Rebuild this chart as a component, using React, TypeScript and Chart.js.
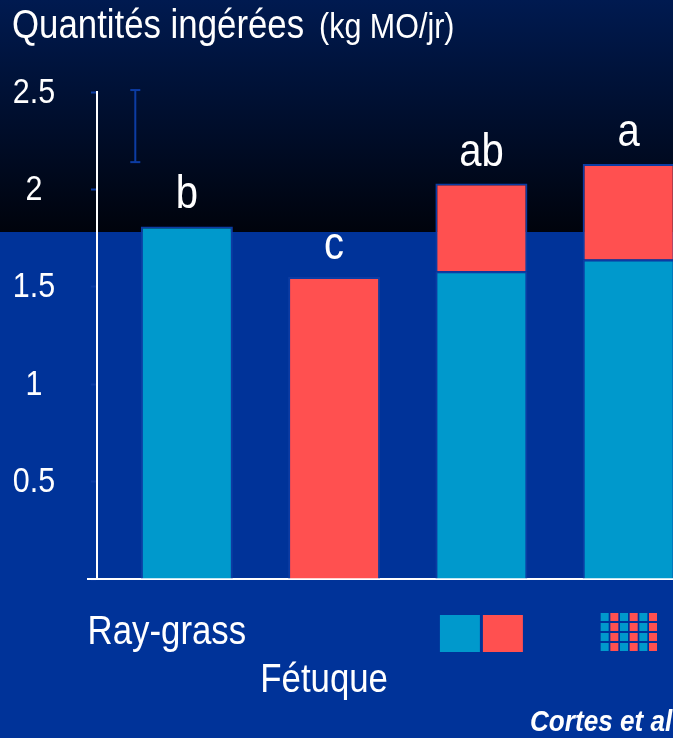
import { useEffect, useRef } from 'react';
import { Chart, registerables } from 'chart.js';

Chart.register(...registerables);

// ---- data ----
const categories = ['Ray-grass', 'Fétuque', 'Ray-grass | Fétuque', 'Mélange'];
const categoryPositions = [1, 2, 3, 4];
const rayGrassValues = [1.81, null, 1.58, 1.64];
const fetuqueValues = [null, 1.55, 0.45, 0.49];
const significanceLetters = ['b', 'c', 'ab', 'a'];
const errorBarX = 0.65;
const errorBarRange = [2.14, 2.51];
const yTickValues = [0, 0.5, 1, 1.5, 2, 2.5];
const yTickLabels = ['', '0.5', '1', '1.5', '2', '2.5'];
const titleMain = 'Quantités ingérées';
const titleUnit = '(kg MO/jr)';
const sourceText = 'Cortes et al';

// ---- style ----
const TEAL = '#0099cc';
const RED = '#ff5050';
const BLUE = '#003399';
const EDGE = '#0c3ca3';
const FONT = '"Liberation Sans", Arial, sans-serif';
const NARROW = 0.87;

function narrowText(
  ctx: CanvasRenderingContext2D,
  text: string,
  x: number,
  y: number,
  font: string,
  align: CanvasTextAlign,
  baseline: CanvasTextBaseline = 'alphabetic'
) {
  ctx.save();
  ctx.font = font;
  ctx.textAlign = align;
  ctx.textBaseline = baseline;
  ctx.translate(x, y);
  ctx.scale(NARROW, 1);
  ctx.fillText(text, 0, 0);
  ctx.restore();
}

const decorPlugin = {
  id: 'decor',
  beforeDraw(chart: any) {
    const { ctx, width, height } = chart;
    const split = 232;
    ctx.save();
    const g = ctx.createLinearGradient(0, 0, 0, split);
    g.addColorStop(0, '#001a50');
    g.addColorStop(1, '#00030c');
    ctx.fillStyle = g;
    ctx.fillRect(0, 0, width, split);
    ctx.fillStyle = BLUE;
    ctx.fillRect(0, split, width, height - split);
    ctx.restore();
  },
  afterDraw(chart: any) {
    const { ctx, width, height, chartArea } = chart;
    const xs = chart.scales.x;
    const ys = chart.scales.y;
    const bottom = chartArea.bottom;
    ctx.save();
    // x axis extension to the left
    ctx.strokeStyle = '#ffffff';
    ctx.lineWidth = 2;
    ctx.beginPath();
    ctx.moveTo(chartArea.left - 10, bottom);
    ctx.lineTo(chartArea.left, bottom);
    ctx.stroke();

    ctx.fillStyle = '#ffffff';

    // title
    narrowText(ctx, titleMain, 12, 38, `40px ${FONT}`, 'left');
    ctx.font = `40px ${FONT}`;
    const w = ctx.measureText(titleMain).width * NARROW;
    narrowText(ctx, titleUnit, 12 + w + 15, 38, `35px ${FONT}`, 'left');

    // y tick labels
    yTickValues.forEach((v, i) => {
      narrowText(ctx, yTickLabels[i], 34, ys.getPixelForValue(v) + 1, `35px ${FONT}`, 'center', 'middle');
    });

    // significance letters
    categoryPositions.forEach((p, i) => {
      const total = (rayGrassValues[i] || 0) + (fetuqueValues[i] || 0);
      narrowText(ctx, significanceLetters[i], xs.getPixelForValue(p), ys.getPixelForValue(total) - 18, `46px ${FONT}`, 'center');
    });

    // category labels
    narrowText(ctx, categories[0], xs.getPixelForValue(categoryPositions[0]) - 20, bottom + 65, `40px ${FONT}`, 'center');
    narrowText(ctx, categories[1], xs.getPixelForValue(categoryPositions[1]) - 10, bottom + 113, `40px ${FONT}`, 'center');

    // side-by-side icon
    const c3 = xs.getPixelForValue(categoryPositions[2]);
    ctx.fillStyle = TEAL;
    ctx.fillRect(c3 - 41.5, bottom + 36, 40, 37);
    ctx.fillStyle = RED;
    ctx.fillRect(c3 + 1.5, bottom + 36, 40, 37);

    // mixed icon
    const c4 = xs.getPixelForValue(categoryPositions[3]);
    for (let col = 0; col < 6; col++) {
      for (let row = 0; row < 4; row++) {
        ctx.fillStyle = col % 2 === 0 ? TEAL : RED;
        ctx.fillRect(c4 - 28 + col * 9.67, bottom + 34 + row * 10, 8, 8);
      }
    }

    // source
    ctx.fillStyle = '#ffffff';
    narrowText(ctx, sourceText, width - 143, height - 7, `italic bold 30px ${FONT}`, 'left');
    ctx.restore();
  },
};

export default function App() {
  const ref = useRef<HTMLCanvasElement | null>(null);

  useEffect(() => {
    if (!ref.current) return;
    const chart = new Chart(ref.current, {
      type: 'bar',
      data: {
        datasets: [
          {
            label: 'Ray-grass',
            data: categoryPositions.map((p, i) => ({ x: p, y: rayGrassValues[i] })) as any,
            backgroundColor: TEAL,
            borderColor: EDGE,
            borderWidth: 2,
            categoryPercentage: 1,
            barPercentage: 0.625,
            yAxisID: 'y',
          },
          {
            label: 'Fétuque',
            data: categoryPositions.map((p, i) => ({ x: p, y: fetuqueValues[i] })) as any,
            backgroundColor: RED,
            borderColor: EDGE,
            borderWidth: 2,
            categoryPercentage: 1,
            barPercentage: 0.625,
            yAxisID: 'y',
          },
          {
            type: 'line',
            label: 'SE',
            data: errorBarRange.map((v) => ({ x: errorBarX, y: v })) as any,
            borderColor: EDGE,
            borderWidth: 2,
            pointStyle: 'line',
            pointRadius: 5,
            pointBorderWidth: 2,
            pointBorderColor: EDGE,
            fill: false,
            clip: false,
            yAxisID: 'yErr',
          } as any,
        ],
      },
      options: {
        responsive: false,
        animation: false,
        devicePixelRatio: 1,
        layout: { autoPadding: false, padding: { top: 92, bottom: 159, left: 0, right: 0 } },
        plugins: { legend: { display: false }, tooltip: { enabled: false }, title: { display: false } },
        scales: {
          x: {
            type: 'linear',
            stacked: true,
            offset: false,
            min: 0.39,
            max: 4.301,
            afterBuildTicks: (s: any) => {
              s.ticks = categoryPositions.map((v) => ({ value: v }));
            },
            afterFit: (s: any) => {
              s.height = 0;
            },
            ticks: { display: false },
            grid: { display: false, drawTicks: false },
            border: { display: true, color: '#ffffff', width: 2 },
          },
          y: {
            type: 'linear',
            stacked: true,
            min: 0,
            max: 2.5,
            afterBuildTicks: (s: any) => {
              s.ticks = yTickValues.map((v) => ({ value: v }));
            },
            afterFit: (s: any) => {
              s.width = 97;
            },
            ticks: { display: false },
            grid: {
              display: true,
              drawOnChartArea: false,
              drawTicks: true,
              tickLength: 6,
              tickColor: EDGE,
              tickWidth: 2,
            },
            border: { display: true, color: '#ffffff', width: 2 },
          },
          yErr: {
            type: 'linear',
            display: false,
            min: 0,
            max: 2.5,
          },
        },
      },
      plugins: [decorPlugin],
    });
    return () => chart.destroy();
  }, []);

  return (
    <div style={{ position: 'absolute', left: 0, top: 0, width: 673, height: 738, overflow: 'hidden' }}>
      <canvas ref={ref} width={673} height={738} style={{ display: 'block' }} />
    </div>
  );
}
